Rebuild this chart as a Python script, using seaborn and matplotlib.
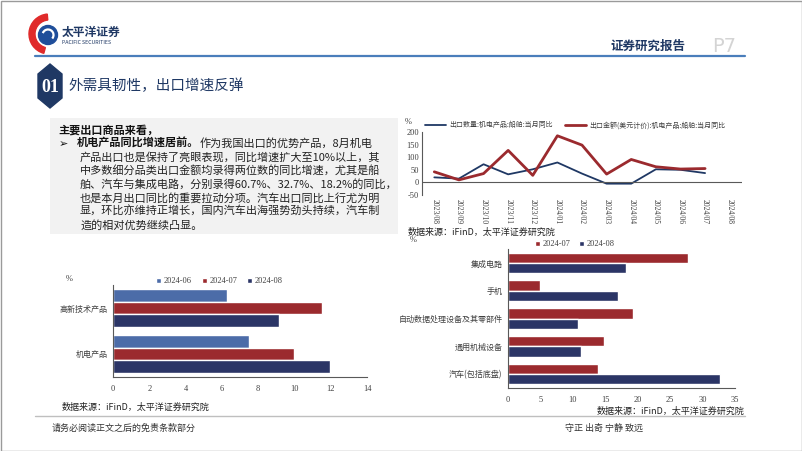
import numpy as np
import pandas as pd
import seaborn as sns
import matplotlib.pyplot as plt
from matplotlib import patches

# ---- data ----
months = ['2023/08', '2023/09', '2023/10', '2023/11', '2023/12', '2024/01', '2024/02',
          '2024/03', '2024/04', '2024/05', '2024/06', '2024/07', '2024/08']
qty_yoy = [20, 15, 72, 32, 52, 79, 35, -5, -5, 52, 50, 37, np.nan]
val_yoy = [42, 10, 35, 127, 28, 185, 148, 33, 91, 62, 53, 55, np.nan]
line_labels = ['出口数量:机电产品:船舶:当月同比', '出口金额(美元计价):机电产品:船舶:当月同比']

left_cats = ['高新技术产品', '机电产品']
left_periods = ['2024-06', '2024-07', '2024-08']
left_06 = [6.3, 7.5]
left_07 = [11.5, 10.0]
left_08 = [9.15, 11.95]

right_cats = ['集成电路', '手机', '自动数据处理设备及其零部件', '通用机械设备', '汽车(包括底盘)']
right_periods = ['2024-07', '2024-08']
right_07 = [27.7, 5.0, 19.3, 14.8, 13.8]
right_08 = [18.2, 17.0, 10.8, 11.3, 32.7]

body_lines = [
    '产品出口也是保持了亮眼表现，同比增速扩大至10%以上，其',
    '中多数细分品类出口金额均录得两位数的同比增速，尤其是船',
    '舶、汽车与集成电路，分别录得60.7%、32.7%、18.2%的同比，',
    '也是本月出口同比的重要拉动分项。汽车出口同比上行尤为明',
    '显，环比亦维持正增长，国内汽车出海强势劲头持续，汽车制',
    '造的相对优势继续凸显。',
]
source = '数据来源：iFinD，太平洋证券研究院'

# ---- style ----
sns.set_style('white')
CJK = ['Noto Sans CJK SC', 'DejaVu Sans']
plt.rcParams['font.family'] = ['Liberation Serif', 'Noto Sans CJK SC', 'DejaVu Sans']
plt.rcParams['axes.unicode_minus'] = False

navy = '#1F3864'
red = '#9B2A2E'
c06 = '#4C6CA8'
c08 = '#2B3566'
spine_c = '#595959'
txt_c = '#404040'

W, H = 802, 451
fig = plt.figure(figsize=(8.02, 4.51), dpi=100)


def box(x0, y0, x1, y1):
    a = fig.add_axes([x0 / W, 1 - y1 / H, (x1 - x0) / W, (y1 - y0) / H])
    a.patch.set_alpha(0)
    return a


# background layer in pixel coordinates
bg = fig.add_axes([0, 0, 1, 1])
bg.set_xlim(0, W)
bg.set_ylim(H, 0)
bg.axis('off')
bg.add_patch(patches.Rectangle((0.5, 0.5), W - 1, H - 1, fill=False, ec='#9A9A9A', lw=1))

# logo
bg.add_patch(patches.Wedge((49, 34), 20, 105, 265, width=6, color='#E02A2A'))
bg.add_patch(patches.Circle((48, 35), 9.5, color='#1F4E9A'))
bg.add_patch(patches.Arc((48, 35), 11, 11, theta1=200, theta2=40, color='white', lw=1.6))
bg.text(62, 32, '太平洋证券', family=CJK, fontsize=8.5, weight='bold', color=navy, va='center')
bg.text(62, 43, 'PACIFIC SECURITIES', family=CJK, fontsize=3.8, color=navy, va='center')
bg.text(610, 46, '证券研究报告', family=CJK, fontsize=9, weight='bold', color=navy, va='center')
bg.text(712, 46, 'P7', family=['DejaVu Sans'], fontsize=14, color='#D4D4D4', va='center')
bg.plot([35, 745], [56, 56], color='#4A7EBB', lw=1.6)

# section badge + title
hexagon = [(50, 64), (62, 74), (62, 98), (50, 108), (38, 98), (38, 74)]
bg.add_patch(patches.Polygon(hexagon, closed=True, color=navy))
bg.text(50, 87, '01', family=['Liberation Serif'], fontsize=13, weight='bold',
        color='white', ha='center', va='center')
bg.text(68, 86, '外需具韧性，出口增速反弹', family=CJK, fontsize=10.5, color=navy, va='center')

# text box
bg.add_patch(patches.Rectangle((50, 118), 348, 116, color='#F2F2F2', lw=0))
fs = 8.0
step = 13.6
bg.text(58, 130, '主要出口商品来看，', family=CJK, fontsize=fs, weight='bold', va='center', color='#111111')
bg.text(59, 130 + step, '➢', family=['DejaVu Sans'], fontsize=fs, va='center', color='#111111')
bg.text(77, 130 + step, '机电产品同比增速居前。', family=CJK, fontsize=fs, weight='bold', va='center', color='#111111')
bg.text(200, 130 + step, '作为我国出口的优势产品，8月机电', family=CJK, fontsize=fs, va='center', color='#222222')
for i, s in enumerate(body_lines):
    bg.text(80, 130 + step * (i + 2), s, family=CJK, fontsize=fs, va='center', color='#222222')

# sources, rules and footer
bg.text(408, 232, source, family=CJK, fontsize=6.5, va='center', color='#222222')
bg.text(62, 407, source, family=CJK, fontsize=6.5, va='center', color='#222222')
bg.text(597, 411, source, family=CJK, fontsize=6.5, va='center', color='#222222')
bg.plot([35, 745], [416, 416], color='#BFBFBF', lw=1)
bg.text(52, 428, '请务必阅读正文之后的免责条款部分', family=CJK, fontsize=6.5, va='center', color='#333333')
bg.text(565, 428, '守正 出奇 宁静 致远', family=CJK, fontsize=6.5, va='center', color='#333333')

# percent markers
bg.text(405, 122, '%', fontsize=6, color=txt_c, va='center')
bg.text(66, 279, '%', fontsize=6, color=txt_c, va='center')
bg.text(410, 240, '%', fontsize=6, color=txt_c, va='center')


def style(ax):
    sns.despine(ax=ax)
    for sp in ['left', 'bottom']:
        ax.spines[sp].set_color(spine_c)
        ax.spines[sp].set_linewidth(0.8)
    ax.set_xlabel('')
    ax.set_ylabel('')


# ---- line chart ----
ax1 = box(422, 132, 742, 195)
x = np.arange(len(months))
sns.lineplot(x=x, y=qty_yoy, ax=ax1, color=navy, lw=1.3, label=line_labels[0])
sns.lineplot(x=x, y=val_yoy, ax=ax1, color=red, lw=2.0, label=line_labels[1])
style(ax1)
ax1.spines['bottom'].set_visible(False)
ax1.axhline(0, color=spine_c, lw=0.8)
ax1.set_xlim(-0.5, len(months) - 0.5)
ax1.set_ylim(-50, 200)
ax1.set_yticks(range(-50, 201, 50))
ax1.set_xticks(x)
ax1.set_xticklabels(months, rotation=-90, fontsize=5.5, color=txt_c)
ax1.tick_params(axis='x', length=0, pad=3)
ax1.tick_params(axis='y', labelsize=6, labelcolor=txt_c, length=0, pad=2)
ax1.legend(loc='lower left', bbox_to_anchor=(0.0, 1.0), ncol=2, frameon=False,
           prop={'family': CJK, 'size': 5.0}, handlelength=3, handletextpad=0.5,
           borderaxespad=0, columnspacing=1.8, labelcolor=txt_c)

# ---- left bar chart ----
ax2 = box(113, 285, 367, 377)
df_left = pd.DataFrame({
    'cat': left_cats * 3,
    'period': np.repeat(left_periods, len(left_cats)),
    'val': left_06 + left_07 + left_08,
})
sns.barplot(data=df_left, y='cat', x='val', hue='period', orient='h', ax=ax2,
            palette=[c06, red, c08], saturation=1, width=0.82)
style(ax2)
ax2.set_xlim(0, 14)
ax2.set_xticks(range(0, 15, 2))
ax2.set_ylim(len(left_cats) - 0.5, -0.5)
ax2.set_yticks(np.arange(len(left_cats) + 1) - 0.5, minor=True)
ax2.tick_params(axis='y', which='major', length=0, labelsize=5.8, labelcolor=txt_c, pad=4)
ax2.tick_params(axis='y', which='minor', length=3, color=spine_c, direction='out')
ax2.tick_params(axis='x', labelsize=6, labelcolor=txt_c, length=2, color=spine_c, direction='out')
for lab in ax2.get_yticklabels():
    lab.set_family(CJK)
ax2.legend(loc='center', bbox_to_anchor=(0.42, 1.04), ncol=3, frameon=False, fontsize=6,
           handlelength=0.6, handleheight=0.6, handletextpad=0.3, columnspacing=1.2,
           labelcolor=txt_c, borderaxespad=0)

# ---- right bar chart ----
ax3 = box(508, 249, 735, 388)
df_right = pd.DataFrame({
    'cat': right_cats * 2,
    'period': np.repeat(right_periods, len(right_cats)),
    'val': right_07 + right_08,
})
sns.barplot(data=df_right, y='cat', x='val', hue='period', orient='h', ax=ax3,
            palette=[red, c08], saturation=1, width=0.74)
style(ax3)
ax3.set_xlim(0, 35)
ax3.set_xticks(range(0, 36, 5))
ax3.set_ylim(len(right_cats) - 0.5, -0.5)
ax3.set_yticks(np.arange(len(right_cats) + 1) - 0.5, minor=True)
ax3.tick_params(axis='y', which='major', length=0, labelsize=5.8, labelcolor=txt_c, pad=4)
ax3.tick_params(axis='y', which='minor', length=3, color=spine_c, direction='out')
ax3.tick_params(axis='x', labelsize=6, labelcolor=txt_c, length=2, color=spine_c, direction='out')
for lab in ax3.get_yticklabels():
    lab.set_family(CJK)
ax3.legend(loc='center', bbox_to_anchor=(0.295, 1.035), ncol=2, frameon=False, fontsize=6,
           handlelength=0.6, handleheight=0.6, handletextpad=0.3, columnspacing=1.0,
           labelcolor=txt_c, borderaxespad=0)

fig.savefig('out.png', dpi=100)
